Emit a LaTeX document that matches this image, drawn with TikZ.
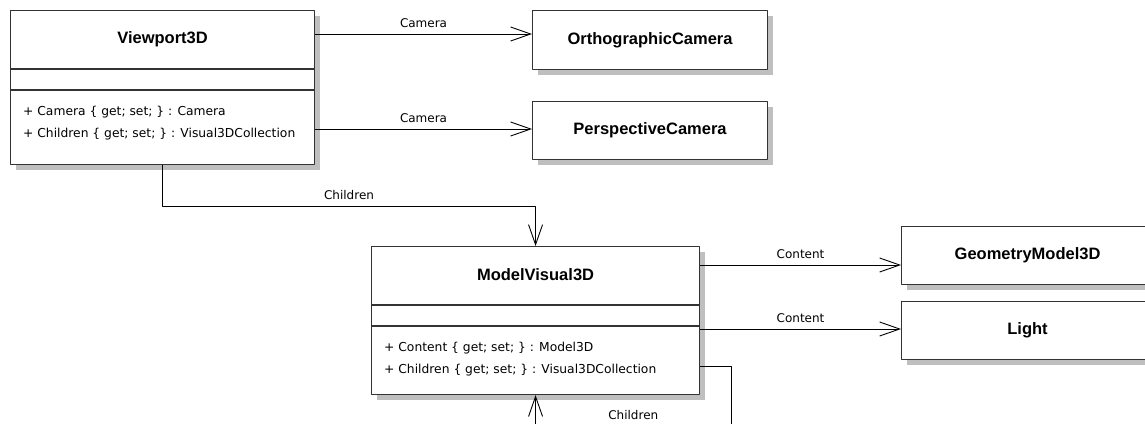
\documentclass[tikz,border=0pt]{standalone}
\usepackage{fontspec}
\setmainfont{DejaVu Sans}
\newfontfamily\headfont{Liberation Sans}
\usetikzlibrary{calc,arrows.meta,shadows,positioning}

\tikzset{
	classbox/.style={draw=black!80, line width=1.1pt, fill=white, anchor=north west, inner sep=0pt,
		drop shadow={shadow xshift=5pt, shadow yshift=-5pt, fill=black!25, opacity=1}},
	classname/.style={font=\headfont\bfseries\fontsize{16.5}{19}\selectfont},
	member/.style={font=\fontsize{12.3}{14}\selectfont, anchor=west, inner sep=0pt},
	rolelabel/.style={font=\fontsize{12}{14}\selectfont, above=5pt, inner sep=1pt},
	compart/.style={draw=black!80, line width=1.1pt},
	assoc/.style={draw=black, line width=0.9pt, -{Straight Barb[length=20pt,width=14pt]}}
}

\begin{document}
\begin{tikzpicture}[x=1pt,y=-1pt,line join=round]
\path[use as bounding box, fill=white] (0,0) rectangle (1145,423);
\clip (0,0) rectangle (1145,423);

\node[classbox, minimum width=304pt, minimum height=154pt] (viewport) at (10,10) {};
\node[classbox, minimum width=328pt, minimum height=148pt] (model) at (371,246) {};
\node[classbox, classname, minimum width=235pt, minimum height=59pt] (ortho) at (532,10) {OrthographicCamera};
\node[classbox, classname, minimum width=235pt, minimum height=58pt] (persp) at (532,101) {PerspectiveCamera};
\node[classbox, classname, minimum width=252pt, minimum height=58pt] (geom) at (901,226) {GeometryModel3D};
\node[classbox, classname, minimum width=252pt, minimum height=58pt] (light) at (901,301) {Light};

\foreach \cls/\nom/\first in {viewport/Viewport3D/Camera \{ get; set; \} : Camera,
	model/ModelVisual3D/Content \{ get; set; \} : Model3D}
	{\node[classname] (\cls-title) at ($(\cls.north)+(0,29)$) {\nom};
	\draw[compart] ($(\cls.north west)+(0,59)$) -- ($(\cls.north east)+(0,59)$)
		($(\cls.north west)+(0,80)$) -- ($(\cls.north east)+(0,80)$);
	\node[member] (\cls-first) at ($(\cls.north west)+(13,102)$) {+ \first};
	\node[member] (\cls-second) at ($(\cls.north west)+(13,124)$) {+ Children \{ get; set; \} : Visual3DCollection};}

\coordinate (camA) at ($(ortho.north west)+(0,24)$);
\coordinate (camB) at ($(persp.north west)+(0,28)$);
\coordinate (contA) at ($(geom.north west)+(0,39)$);
\coordinate (contB) at ($(light.north west)+(0,28)$);
\coordinate (loopA) at ($(model.north east)+(0,120)$);
\coordinate (loopB) at (731,426);

\draw[assoc] (viewport.east |- camA) -- node[rolelabel]{Camera} (camA);
\draw[assoc] (viewport.east |- camB) -- node[rolelabel]{Camera} (camB);
\draw[assoc] (viewport.south) -- ++(0,41) -| node[rolelabel,pos=0.25]{Children} (model.north);
\draw[assoc] (model.east |- contA) -- node[rolelabel]{Content} (contA);
\draw[assoc] (model.east |- contB) -- node[rolelabel]{Content} (contB);
\draw[assoc] (loopA) -| (loopB) -| node[rolelabel,pos=0.25]{Children} (model.south);
\end{tikzpicture}
\end{document}
